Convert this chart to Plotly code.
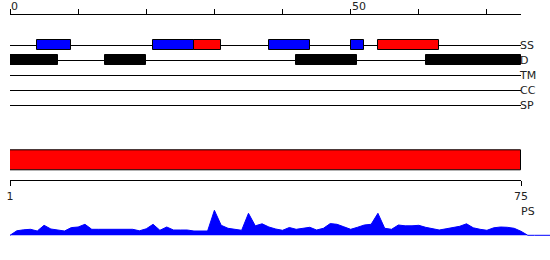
import plotly.graph_objects as go

W, H = 550, 260

# ---------------- data ----------------
track_names = ["SS", "D", "TM", "CC", "SP"]

ss_blue_start = [4, 21, 38, 50]
ss_blue_end = [9, 27, 44, 52]
ss_red_start = [27, 54]
ss_red_end = [31, 63]
d_start = [0, 14, 42, 61]
d_end = [7, 20, 51, 75]

top_tick_vals = [0, 10, 20, 30, 40, 50, 60, 70]
top_tick_labels = ["0", "", "", "", "", "50", "", ""]

ps_start = [1]
ps_end = [75]
bottom_tick_vals = [1, 75]
bottom_tick_labels = ["1", "75"]

profile = [0, 4.5, 5.5, 6, 4.3, 10, 6.3, 5.3, 4.3, 7.7,
           8.3, 11, 6, 6, 6, 6, 5.5, 5.5, 6, 4.5,
           6.5, 11, 5, 8.3, 5.3, 5.3, 5.3, 4.3, 4.3, 4.3,
           25, 10, 7, 6, 5, 22, 9.5, 11.5, 8.3, 6.3,
           5, 7.8, 6, 7, 8, 5.3, 7, 11.7, 11, 8.5,
           6, 8, 10.3, 11, 22, 7, 6, 10.3, 9.5, 9.5,
           10, 8, 6.5, 5.3, 6.5, 7.7, 9, 11.5, 7.5, 6,
           5, 7.5, 8.3, 8, 7, 4, 0, 0, 0, 0, 0]
profile_pos = list(range(len(profile)))

# ---------------- helpers ----------------
def py(p):
    return 1 - p / H

BLUE = "#0000ff"
RED = "#ff0000"
BLACK = "#000000"
FONT = "DejaVu Sans"

fig = go.Figure()

def boxes(starts, ends, row, color):
    fig.add_trace(go.Bar(
        orientation="h",
        y=[row] * len(starts),
        base=starts,
        x=[e - s for s, e in zip(starts, ends)],
        width=0.72,
        marker=dict(color=color, line=dict(color=BLACK, width=1)),
        xaxis="x", yaxis="y", showlegend=False, hoverinfo="skip",
    ))

boxes(ss_blue_start, ss_blue_end, 0, BLUE)
boxes(ss_red_start, ss_red_end, 0, RED)
boxes(d_start, d_end, 1, BLACK)

# PS red bar
fig.add_trace(go.Bar(
    orientation="h", y=[0], base=ps_start,
    x=[e - s for s, e in zip(ps_start, ps_end)], width=1,
    marker=dict(color=RED, line=dict(color=BLACK, width=1)),
    xaxis="x2", yaxis="y2", showlegend=False, hoverinfo="skip",
))

# profile area
fig.add_trace(go.Scatter(
    x=profile_pos, y=profile, mode="lines", fill="tozeroy",
    line=dict(color=BLUE, width=1), fillcolor=BLUE,
    xaxis="x3", yaxis="y3", showlegend=False, hoverinfo="skip",
))

x_dom = [10 / W, 521 / W]
ax_font = dict(family=FONT, size=11, color="#222")

annotations = []
for v, t in zip(top_tick_vals, top_tick_labels):
    if t:
        annotations.append(dict(
            x=v, xref="x", y=py(6.5), yref="paper", text=t,
            showarrow=False, xanchor="left", yanchor="middle",
            font=ax_font, borderpad=0,
        ))
annotations.append(dict(
    x=528 / W, xref="paper", y=py(211), yref="paper", text="PS",
    showarrow=False, xanchor="center", yanchor="middle", font=ax_font,
))

fig.update_layout(
    width=W, height=H,
    margin=dict(l=0, r=0, t=0, b=0, autoexpand=False),
    paper_bgcolor="white", plot_bgcolor="rgba(0,0,0,0)",
    barmode="overlay",
    bargap=0,
    xaxis=dict(
        domain=x_dom, range=[0, 75], anchor="y", side="top",
        showline=True, linecolor=BLACK, linewidth=1,
        ticks="outside", ticklen=5, tickcolor=BLACK, tickwidth=1,
        tickvals=top_tick_vals, showticklabels=False,
        showgrid=False, zeroline=False, fixedrange=True, automargin=False,
    ),
    yaxis=dict(
        domain=[py(115), py(15)], range=[4.667, -2], anchor="x", side="right",
        tickvals=list(range(len(track_names))), ticktext=track_names,
        ticks="", showgrid=True, gridcolor=BLACK, gridwidth=1,
        showline=False, zeroline=False, tickfont=ax_font,
        ticklabelstandoff=-2, automargin=False,
    ),
    xaxis2=dict(
        domain=x_dom, range=[1, 75], anchor="y2", side="bottom",
        showline=True, linecolor=BLACK, linewidth=1,
        ticks="outside", ticklen=5, tickcolor=BLACK, tickwidth=1,
        tickvals=bottom_tick_vals, ticktext=bottom_tick_labels,
        tickfont=ax_font, showgrid=False, zeroline=False, automargin=False,
    ),
    yaxis2=dict(
        domain=[py(180.3), py(140.3)], range=[-1.01, 1.03], anchor="x2",
        visible=False, automargin=False,
    ),
    xaxis3=dict(
        domain=[10 / W, 1], range=[0, 540 / 511 * 75], anchor="y3",
        visible=False, automargin=False,
    ),
    yaxis3=dict(
        domain=[py(236.3), py(205.3)], range=[-1, 30], anchor="x3",
        visible=False, automargin=False,
    ),
    annotations=annotations,
)

fig.write_html("out.html")
